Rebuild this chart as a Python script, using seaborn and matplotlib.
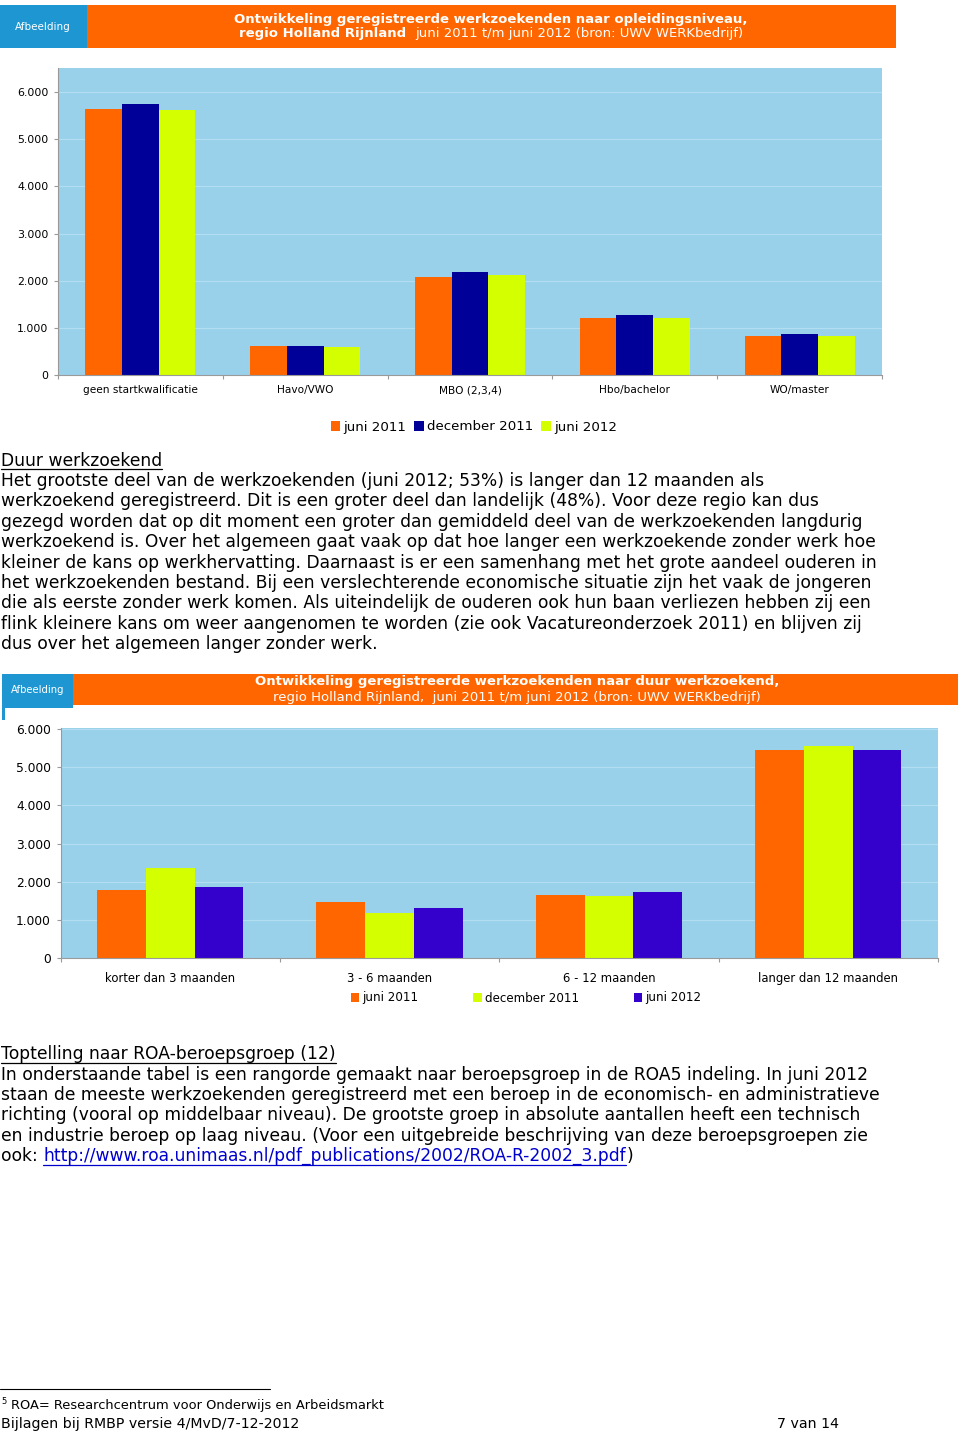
import numpy as np
import pandas as pd
import matplotlib
matplotlib.use("Agg")
import matplotlib.pyplot as plt
import seaborn as sns
from matplotlib.patches import Rectangle
from matplotlib.lines import Line2D
from matplotlib.ticker import FuncFormatter, FixedLocator

# ---------------- data ----------------
edu_categories = ["geen startkwalificatie", "Havo/VWO", "MBO (2,3,4)", "Hbo/bachelor", "WO/master"]
edu_series = ["juni 2011", "december 2011", "juni 2012"]
edu_jun2011 = [5630, 610, 2080, 1200, 820]
edu_dec2011 = [5740, 610, 2190, 1270, 870]
edu_jun2012 = [5610, 595, 2120, 1200, 820]

dur_categories = ["korter dan 3 maanden", "3 - 6 maanden", "6 - 12 maanden", "langer dan 12 maanden"]
dur_series = ["juni 2011", "december 2011", "juni 2012"]
dur_jun2011 = [1780, 1460, 1660, 5460]
dur_dec2011 = [2370, 1170, 1630, 5550]
dur_jun2012 = [1860, 1300, 1730, 5460]

yticks_vals = [0, 1000, 2000, 3000, 4000, 5000, 6000]

edu_colors = ["#FF6600", "#000099", "#D4FF00"]
dur_colors = ["#FF6600", "#D4FF00", "#3300CC"]

ORANGE = "#FF6600"
BLUEBOX = "#1E96D2"
AXBG = "#99D1EB"

W, H = 960, 1433
sns.set_theme(style="white")
plt.rcParams["font.family"] = ["DejaVu Sans"]
plt.rcParams["text.color"] = "black"
plt.rcParams["xtick.color"] = "black"
plt.rcParams["ytick.color"] = "black"

fig = plt.figure(figsize=(W / 100, H / 100), dpi=100)
fig.patch.set_facecolor("white")


def fx(x):
    return x / W


def fy(y):
    return 1 - y / H


def rect(x0, y0, x1, y1, color, z=0):
    fig.add_artist(Rectangle((fx(x0), fy(y1)), (x1 - x0) / W, (y1 - y0) / H,
                             transform=fig.transFigure, facecolor=color,
                             edgecolor="none", zorder=z))


def thousands(v, pos=None):
    return f"{v:,.0f}".replace(",", ".")


def long_df(cats, series, arrays):
    rows = []
    for s, arr in zip(series, arrays):
        for c, v in zip(cats, arr):
            rows.append({"cat": c, "series": s, "val": v})
    return pd.DataFrame(rows)


def style_axes(ax, ncat, ymax, ytick_fs, xtick_fs, xpad, ypad):
    ax.set_facecolor(AXBG)
    ax.set_xlim(-0.5, ncat - 0.5)
    ax.set_ylim(0, ymax)
    ax.set_yticks(yticks_vals)
    ax.yaxis.set_major_formatter(FuncFormatter(thousands))
    ax.grid(axis="y", color="#B3DDF0", linewidth=0.8)
    ax.set_axisbelow(True)
    for s in ["top", "right"]:
        ax.spines[s].set_visible(False)
    for s in ["left", "bottom"]:
        ax.spines[s].set_color("#9A9A9A")
        ax.spines[s].set_linewidth(0.8)
    ax.set_xlabel("")
    ax.set_ylabel("")
    ax.xaxis.set_minor_locator(FixedLocator(np.arange(-0.5, ncat, 1.0)))
    ax.tick_params(axis="x", which="major", length=0, pad=xpad, labelsize=xtick_fs, labelcolor="black")
    ax.tick_params(axis="x", which="minor", length=3, width=0.8, color="#9A9A9A", bottom=True)
    ax.tick_params(axis="y", length=3, width=0.8, color="#9A9A9A", pad=ypad, labelsize=ytick_fs,
                   left=True, labelcolor="black")


# ---------------- header 1 ----------------
HDR_FS = 9.5
rect(0, 5, 87, 48, BLUEBOX)
rect(87, 5, 896, 48, ORANGE)
fig.text(fx(43), fy(27), "Afbeelding", color="white", fontsize=7.5, ha="center", va="center")
fig.text(fx(491), fy(19), "Ontwikkeling geregistreerde werkzoekenden naar opleidingsniveau,",
         color="white", fontsize=HDR_FS, fontweight="bold", ha="center", va="center")
fig.canvas.draw()
renderer = fig.canvas.get_renderer()
t_a = fig.text(0, fy(34), "regio Holland Rijnland", color="white", fontsize=HDR_FS,
               fontweight="bold", ha="left", va="center")
t_b = fig.text(0, fy(34), "juni 2011 t/m juni 2012 (bron: UWV WERKbedrijf)", color="white",
               fontsize=HDR_FS, ha="left", va="center")
wa = t_a.get_window_extent(renderer).width
wb = t_b.get_window_extent(renderer).width
gap = 9
start = 491 - (wa + gap + wb) / 2
t_a.set_x(fx(start))
t_b.set_x(fx(start + wa + gap))

# ---------------- chart 1 ----------------
ax1 = fig.add_axes([fx(58), fy(375), (882 - 58) / W, (375 - 68) / H])
df1 = long_df(edu_categories, edu_series, [edu_jun2011, edu_dec2011, edu_jun2012])
sns.barplot(data=df1, x="cat", y="val", hue="series", order=edu_categories,
            hue_order=edu_series, palette=edu_colors, saturation=1, width=0.667,
            errorbar=None, ax=ax1, linewidth=0)
style_axes(ax1, len(edu_categories), 6510, 7.9, 7.6, 7.5, 4)
h1, l1 = ax1.get_legend_handles_labels()
ax1.get_legend().remove()
fig.legend(h1, l1, loc="center", bbox_to_anchor=(fx(474), fy(427)), ncol=3, frameon=False,
           fontsize=9.6, handlelength=0.7, handleheight=0.7, handletextpad=0.25,
           columnspacing=0.6, borderpad=0)

# ---------------- text block 1 ----------------
BODY_FS = 12.3
lines1 = [
    "Het grootste deel van de werkzoekenden (juni 2012; 53%) is langer dan 12 maanden als",
    "werkzoekend geregistreerd. Dit is een groter deel dan landelijk (48%). Voor deze regio kan dus",
    "gezegd worden dat op dit moment een groter dan gemiddeld deel van de werkzoekenden langdurig",
    "werkzoekend is. Over het algemeen gaat vaak op dat hoe langer een werkzoekende zonder werk hoe",
    "kleiner de kans op werkhervatting. Daarnaast is er een samenhang met het grote aandeel ouderen in",
    "het werkzoekenden bestand. Bij een verslechterende economische situatie zijn het vaak de jongeren",
    "die als eerste zonder werk komen. Als uiteindelijk de ouderen ook hun baan verliezen hebben zij een",
    "flink kleinere kans om weer aangenomen te worden (zie ook Vacatureonderzoek 2011) en blijven zij",
    "dus over het algemeen langer zonder werk.",
]
ys1 = [481, 501, 522, 542, 563, 583, 603, 624, 644]


def underline(t, y_px, color="black"):
    bb = t.get_window_extent(renderer)
    fig.add_artist(Line2D([bb.x0 / W, bb.x1 / W], [fy(y_px), fy(y_px)],
                          transform=fig.transFigure, color=color, linewidth=0.9))


h_1 = fig.text(fx(1), fy(461), "Duur werkzoekend", fontsize=BODY_FS, va="center", ha="left")
underline(h_1, 469.5)
for ln, y in zip(lines1, ys1):
    fig.text(fx(1), fy(y), ln, fontsize=BODY_FS, va="center", ha="left")

# ---------------- header 2 ----------------
rect(73, 674, 958, 705, ORANGE)
rect(2, 674, 73, 708, BLUEBOX)
rect(2, 708, 5, 720, BLUEBOX)
fig.text(fx(38), fy(690), "Afbeelding", color="white", fontsize=7.2, ha="center", va="center")
fig.text(fx(517), fy(682), "Ontwikkeling geregistreerde werkzoekenden naar duur werkzoekend,",
         color="white", fontsize=HDR_FS, fontweight="bold", ha="center", va="center")
fig.text(fx(517), fy(697), "regio Holland Rijnland,  juni 2011 t/m juni 2012 (bron: UWV WERKbedrijf)",
         color="white", fontsize=HDR_FS, ha="center", va="center")

# ---------------- chart 2 ----------------
ax2 = fig.add_axes([fx(60.5), fy(958), (938 - 60.5) / W, (958 - 728) / H])
df2 = long_df(dur_categories, dur_series, [dur_jun2011, dur_dec2011, dur_jun2012])
sns.barplot(data=df2, x="cat", y="val", hue="series", order=dur_categories,
            hue_order=dur_series, palette=dur_colors, saturation=1, width=0.667,
            errorbar=None, ax=ax2, linewidth=0)
style_axes(ax2, len(dur_categories), 6030, 8.8, 8.4, 10, 4)
h2, l2 = ax2.get_legend_handles_labels()
ax2.get_legend().remove()
fig.legend(h2, l2, loc="center", bbox_to_anchor=(fx(526), fy(998)), ncol=3, frameon=False,
           fontsize=8.6, handlelength=0.7, handleheight=0.7, handletextpad=0.25,
           columnspacing=4.6, borderpad=0)

# ---------------- text block 2 ----------------
lines2 = [
    "In onderstaande tabel is een rangorde gemaakt naar beroepsgroep in de ROA5 indeling. In juni 2012",
    "staan de meeste werkzoekenden geregistreerd met een beroep in de economisch- en administratieve",
    "richting (vooral op middelbaar niveau). De grootste groep in absolute aantallen heeft een technisch",
    "en industrie beroep op laag niveau. (Voor een uitgebreide beschrijving van deze beroepsgroepen zie",
]
ys2 = [1075, 1095, 1115, 1136]
h_2 = fig.text(fx(1), fy(1054), "Toptelling naar ROA-beroepsgroep (12)", fontsize=BODY_FS,
               va="center", ha="left")
underline(h_2, 1062.5)
for ln, y in zip(lines2, ys2):
    fig.text(fx(1), fy(y), ln, fontsize=BODY_FS, va="center", ha="left")

# last line with link
url = "http://www.roa.unimaas.nl/pdf_publications/2002/ROA-R-2002_3.pdf"
tmp1 = fig.text(0, 0, "ook: x", fontsize=BODY_FS)
tmp2 = fig.text(0, 0, "x", fontsize=BODY_FS)
off = tmp1.get_window_extent(renderer).width - tmp2.get_window_extent(renderer).width
tmp1.remove()
tmp2.remove()
fig.text(fx(1), fy(1156), "ook:", fontsize=BODY_FS, va="center", ha="left")
t_url = fig.text(fx(1 + off), fy(1156), url, fontsize=BODY_FS, va="center", ha="left", color="#0000CC")
underline(t_url, 1164.5, color="#0000CC")
wurl = t_url.get_window_extent(renderer).width
fig.text(fx(1 + off + wurl + 1), fy(1156), ")", fontsize=BODY_FS, va="center", ha="left")

# ---------------- footer ----------------
fig.add_artist(Line2D([0, fx(270)], [fy(1389), fy(1389)], transform=fig.transFigure,
                      color="black", linewidth=0.8))
fig.text(fx(1), fy(1402), "5", fontsize=6, va="center", ha="left")
fig.text(fx(11), fy(1406), "ROA= Researchcentrum voor Onderwijs en Arbeidsmarkt", fontsize=9.4,
         va="center", ha="left")
fig.text(fx(1), fy(1424), "Bijlagen bij RMBP versie 4/MvD/7-12-2012", fontsize=10.2,
         va="center", ha="left")
fig.text(fx(777), fy(1424), "7 van 14", fontsize=10.2, va="center", ha="left")

fig.savefig("out.png", dpi=100, facecolor="white")
